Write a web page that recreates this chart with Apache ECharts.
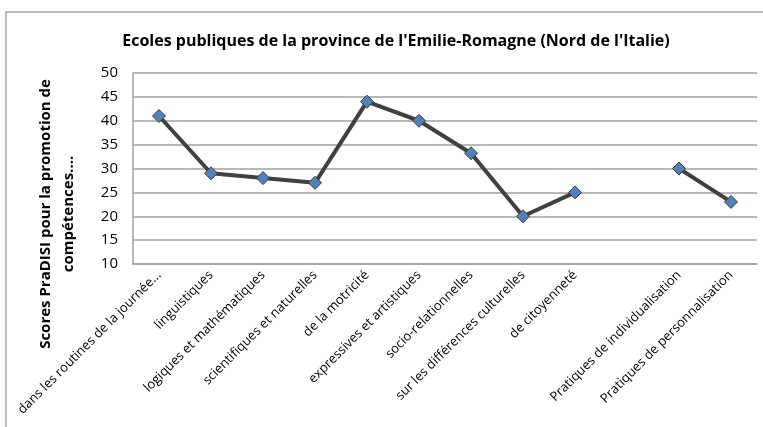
<!DOCTYPE html>
<html>
<head>
<meta charset="utf-8">
<script src="https://cdn.jsdelivr.net/npm/echarts@6/dist/echarts.min.js"></script>
<style>
  html, body { margin: 0; padding: 0; background: #fff; }
</style>
</head>
<body>
<div id="chart" style="width:763px;height:427px;"></div>
<script>
// catégories (la 10e est vide : trou dans la courbe)
var categories = [
  'dans les routines de la journée...',
  'linguistiques',
  'logiques et mathématiques',
  'scientifiques et naturelles',
  'de la motricité',
  'expressives et artistiques',
  'socio-relationnelles',
  'sur les différences culturelles',
  'de citoyenneté',
  '',
  'Pratiques de individualisation',
  'Pratiques de personnalisation'
];
var scores = [41, 29, 28, 27, 44, 40, 33.2, 20, 25, null, 30, 23];
var yTicks = [10, 15, 20, 25, 30, 35, 40, 45, 50];

var chart = echarts.init(document.getElementById('chart'), null, { renderer: 'canvas' });

var option = {
  animation: false,
  backgroundColor: '#fff',
  title: {
    text: "Ecoles publiques de la province de l'Emilie-Romagne (Nord de l'Italie)",
    left: 391,
    textAlign: 'center',
    top: 28,
    textStyle: {
      fontFamily: 'Open Sans',
      fontSize: 16,
      fontWeight: 'bold',
      color: '#000'
    }
  },
  graphic: [
    {
      type: 'rect',
      shape: { x: 6, y: 12, width: 900, height: 600 },
      style: { fill: 'none', stroke: '#a6a6a6', lineWidth: 1.5 },
      silent: true
    },
    {
      type: 'text',
      x: 57,
      y: 214,
      rotation: Math.PI / 2,
      style: {
        text: 'Scores PraDISI pour la promotion de\ncompétences....',
        textAlign: 'center',
        textVerticalAlign: 'middle',
        fontFamily: 'Open Sans',
        fontSize: 15,
        fontWeight: 'bold',
        lineHeight: 23,
        fill: '#000'
      }
    }
  ],
  grid: {
    left: 133,
    right: 6,
    top: 73,
    bottom: 163
  },
  xAxis: {
    type: 'category',
    data: categories,
    boundaryGap: true,
    axisLine: { show: true, lineStyle: { color: '#a0a0a0', width: 1.5 } },
    axisTick: { show: false },
    axisLabel: {
      rotate: 45,
      interval: 0,
      margin: 9,
      fontFamily: 'Open Sans',
      fontSize: 13,
      color: '#000'
    }
  },
  yAxis: {
    type: 'value',
    min: 10,
    max: 50,
    interval: 5,
    axisLine: { show: true, lineStyle: { color: '#a0a0a0', width: 1.5 } },
    axisTick: { show: false },
    axisLabel: {
      margin: 15,
      fontFamily: 'Open Sans',
      fontSize: 15,
      color: '#000',
      formatter: function (v) {
        return yTicks.indexOf(v) >= 0 ? String(v) : '';
      }
    },
    splitLine: { show: true, lineStyle: { color: '#a0a0a0', width: 1.5 } }
  },
  series: [{
    name: 'Scores',
    type: 'line',
    data: scores,
    connectNulls: false,
    symbol: 'diamond',
    symbolSize: 13,
    lineStyle: { color: '#404040', width: 4 },
    itemStyle: { color: '#4f81bd', borderColor: '#3a3a3a', borderWidth: 1 },
    z: 10
  }]
};

chart.setOption(option);
</script>
</body>
</html>
